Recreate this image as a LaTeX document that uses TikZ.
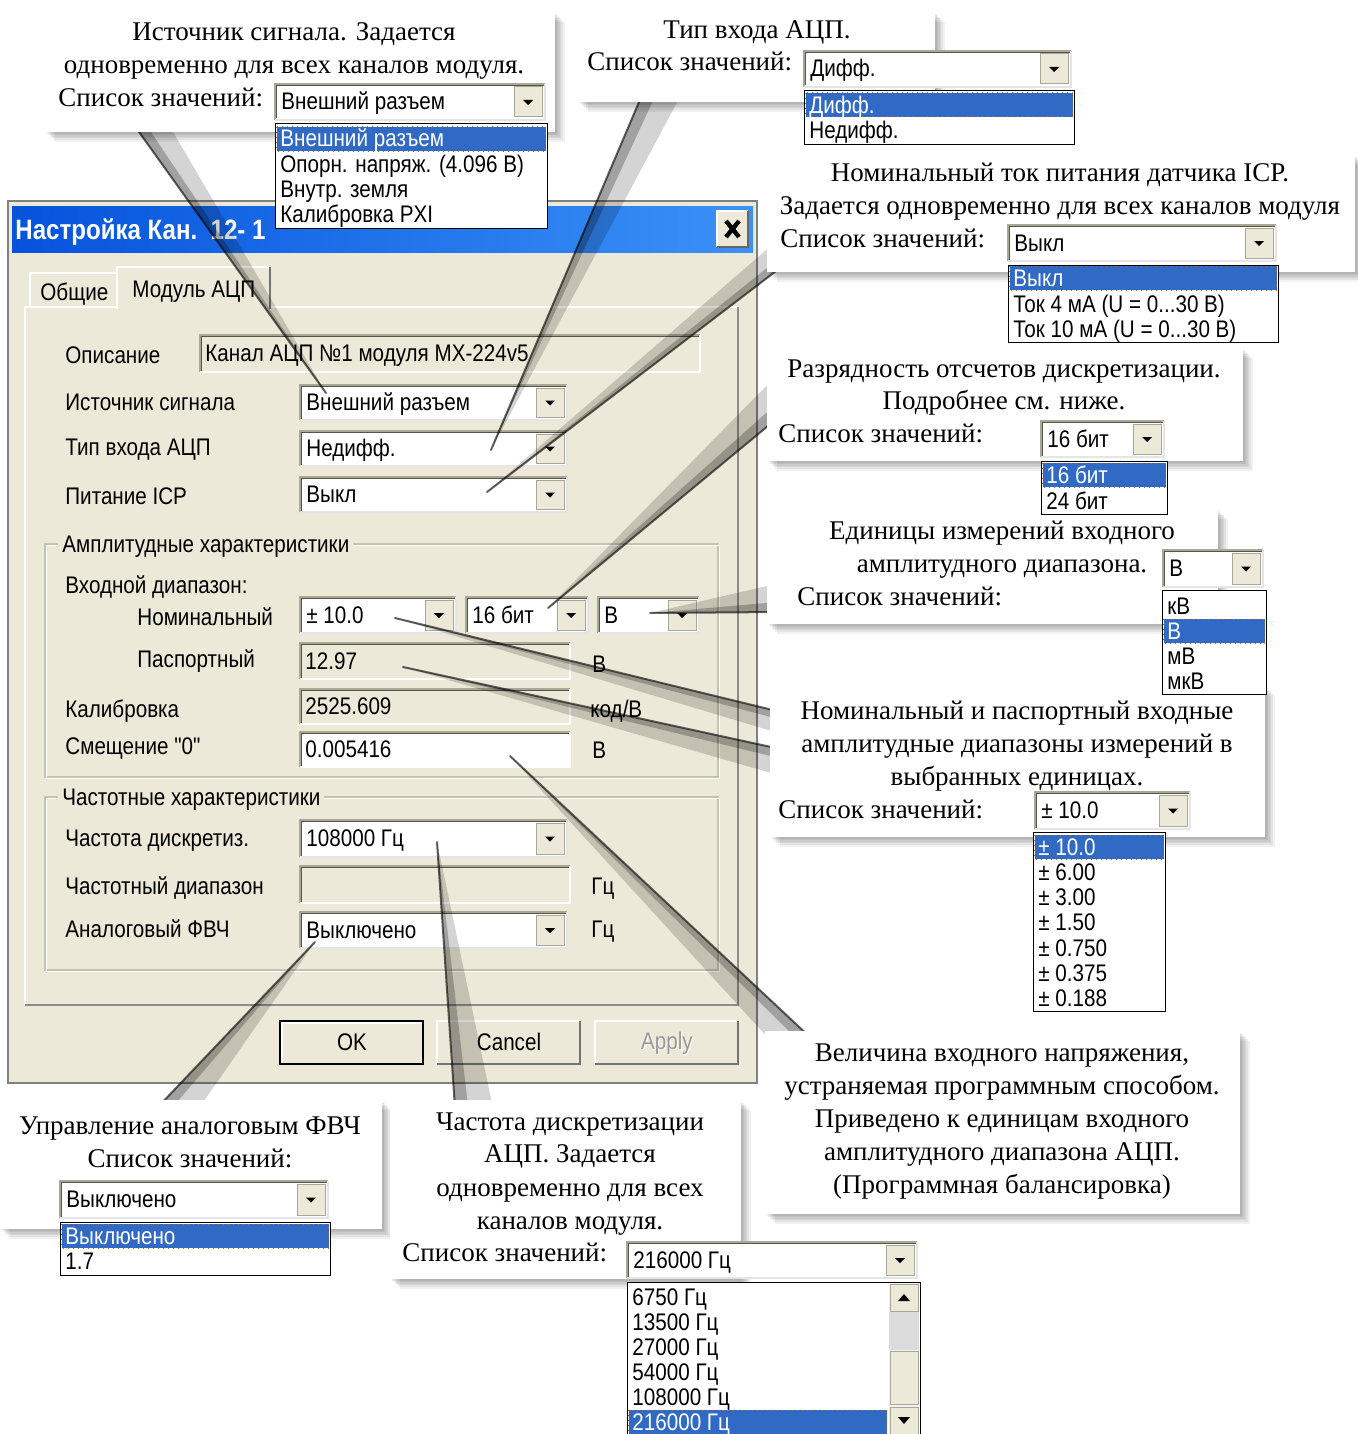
\documentclass[tikz,border=0pt]{standalone}
\usepackage{fontspec}
\setmainfont{Liberation Serif}
\newfontfamily\dlgfont[FakeStretch=0.86]{Liberation Sans}
\usetikzlibrary{calc}
\definecolor{beige}{HTML}{ECE9D8}
\definecolor{selblue}{HTML}{316AC5}
\definecolor{titleA}{HTML}{0553DC}
\definecolor{titleB}{HTML}{3B91F7}
\definecolor{edgeD}{HTML}{A9A796}
\definecolor{edgeK}{HTML}{55554C}
\definecolor{etch}{HTML}{C5C2B0}
\tikzset{
  dlg/.style={font=\dlgfont\fontsize{12}{14}\selectfont, inner sep=0pt, text=black},
  ctext/.style={font=\fontsize{13.5}{16.5}\selectfont, inner sep=0pt},
  shadowstep/.style={fill=black, fill opacity=0.055},
  ptrA/.style={fill=black, fill opacity=0.17},
  ptrB/.style={fill=black, fill opacity=0.24},
  ptrC/.style={draw=black, draw opacity=0.6, line width=1pt, line cap=round},
  lbox/.style={draw=black, line width=0.5pt, fill=white},
  grp/.style={draw=etch, line width=0.7pt},
}
% callout box with soft shadow: x1 y1 x2 y2
\newcommand\cbox[4]{%
  \foreach \k in {1,...,6} {\fill[shadowstep] ({#1+\k*1.6},{#2+\k*1.6}) rectangle ({#3+\k*1.6},{#4+\k*1.6});}
  \fill[white] (#1,#2) rectangle (#3,#4);
}
% combo box: name x1 y1 x2 y2 text
\newcommand\combo[6]{%
  \path[fill=white] (#2,#3) rectangle (#4,#5);
  \draw[edgeD, line width=1pt] (#2,#5) -- (#2,#3) -- (#4,#3);
  \draw[white!90!black, line width=1pt] (#4,#3) -- (#4,#5) -- (#2,#5);
  \draw[edgeK, line width=0.5pt] ({#2+1.5},{#5-1.5}) -- ({#2+1.5},{#3+1.5}) -- ({#4-1.5},{#3+1.5});
  \path[fill=beige, draw=edgeD, line width=0.5pt] ({#4-31},{#3+3}) rectangle ({#4-3},{#5-3});
  \fill ({#4-22},{(#3+#5)/2-2}) -- ({#4-12},{(#3+#5)/2-2}) -- ({#4-17},{(#3+#5)/2+3}) -- cycle;
  \node[dlg, anchor=base west] (#1) at ({#2+6},{(#3+#5)/2+8}) {#6};
}
% field: name x1 y1 x2 y2 fill text
\newcommand\field[7]{%
  \path[fill=#6] (#2,#3) rectangle (#4,#5);
  \draw[edgeD, line width=1pt] (#2,#5) -- (#2,#3) -- (#4,#3);
  \draw[white, line width=1pt] (#4,#3) -- (#4,#5) -- (#2,#5);
  \draw[edgeK, line width=0.5pt] ({#2+1.5},{#5-1.5}) -- ({#2+1.5},{#3+1.5}) -- ({#4-1.5},{#3+1.5});
  \node[dlg, anchor=base west] (#1) at ({#2+5},{(#3+#5)/2+8}) {#7};
}
% list items: name x1 x2 yc text
\newcommand\selitem[5]{%
  \path[fill=selblue, draw=orange!80!black, dotted, line width=0.5pt] ({#2+1.5},{#4-12}) rectangle ({#3-1.5},{#4+12});
  \node[dlg, text=white, anchor=base west] (#1) at ({#2+5},{#4+8}) {#5};
}
\newcommand\litem[5]{%
  \node[dlg, anchor=base west] (#1) at ({#2+5},{#4+8}) {#5};
}
\newcommand\pointer[3]{%
  \fill[ptrA] (#1) -- (#3) -- (#2) -- cycle;
  \fill[ptrB] (#1) -- (#3) -- ($(#1)!0.35!(#2)$) -- cycle;
  \draw[ptrC] (#1) -- (#3);
}
\begin{document}
\begin{tikzpicture}[x=0.5pt, y=-0.5pt]
\useasboundingbox (0,0) rectangle (1358,1434);
\fill[white] (0,0) rectangle (1358,1434);

% ---------------- dialog ----------------
\path[fill=beige, draw=black!50, line width=1pt] (8,201) rectangle (757,1083);
\shade[left color=titleA, right color=titleB] (12,206) rectangle (753,252);
\node[font=\dlgfont\bfseries\fontsize{14}{16}\selectfont, text=white, anchor=base west, inner sep=0pt] (title) at (15,239) {Настройка Кан.\ \ 12- 1};
\path[fill=beige] (717,211) rectangle (748,247);
\draw[white, line width=1pt] (717,247) -- (717,211) -- (748,211);
\draw[black!60, line width=1pt] (748,211) -- (748,247) -- (717,247);
\draw[line width=2.2pt] (726,221) -- (739,237) (739,221) -- (726,237);

% tab panel
\draw[white, line width=1pt] (25,1005) -- (25,307) -- (738,307);
\draw[black!45, line width=1pt] (738,307) -- (738,1005) -- (25,1005);
\path[fill=beige] (30,273) rectangle (117,306);
\draw[white, line width=1pt] (30,306) -- (30,273) -- (117,273);
\draw[black!45, line width=1pt] (117,273) -- (117,306);
\node[dlg, anchor=base west] (tab1) at (40,300) {Общие};
\path[fill=beige] (117,267) rectangle (270,309);
\draw[white, line width=1pt] (117,309) -- (117,267) -- (270,267);
\draw[black!55, line width=1pt] (270,267) -- (270,309);
\node[dlg, anchor=base west] (tab2) at (132,297) {Модуль АЦП};

% rows
\node[dlg, anchor=base west] (lDesc) at (65,363) {Описание};
\field{fdesc}{200}{335}{700}{372}{beige}{Канал АЦП №1 модуля MX-224v5}
\node[dlg, anchor=base west] (lSrc) at (65,410) {Источник сигнала};
\combo{csrc}{300}{385}{567}{420}{Внешний разъем}
\node[dlg, anchor=base west] (lType) at (65,455) {Тип входа АЦП};
\combo{ctype}{300}{431}{567}{466}{Недифф.}
\node[dlg, anchor=base west] (lIcp) at (65,504) {Питание ICP};
\combo{cicp}{300}{477}{567}{512}{Выкл}

% amplitude group
\draw[grp] (45,544) rectangle (718,777);
\draw[white, line width=0.7pt] (46.5,545.5) rectangle (719.5,778.5);
\node[dlg, anchor=base west, fill=beige, inner sep=2pt] (gAmp) at (58,552) {Амплитудные характеристики};
\node[dlg, anchor=base west] (lIn) at (65,593) {Входной диапазон:};
\node[dlg, anchor=base west] (lNom) at (137,625) {Номинальный};
\combo{cnom}{300}{597}{456}{633}{± 10.0}
\combo{cbit}{466}{597}{588}{633}{16 бит}
\combo{cunit}{598}{597}{699}{633}{В}
\node[dlg, anchor=base west] (lPass) at (137,667) {Паспортный};
\field{fpass}{300}{643}{570}{679}{beige}{12.97}
\node[dlg, anchor=base west] (uPass) at (592,672) {В};
\node[dlg, anchor=base west] (lCal) at (65,717) {Калибровка};
\field{fcal}{300}{689}{570}{724}{beige}{2525.609}
\node[dlg, anchor=base west] (uCal) at (590,717) {код/В};
\node[dlg, anchor=base west] (lZero) at (65,754) {Смещение "0"};
\field{fzero}{300}{732}{570}{767}{white}{0.005416}
\node[dlg, anchor=base west] (uZero) at (592,758) {В};

% frequency group
\draw[grp] (45,797) rectangle (718,970);
\draw[white, line width=0.7pt] (46.5,798.5) rectangle (719.5,971.5);
\node[dlg, anchor=base west, fill=beige, inner sep=2pt] (gFrq) at (58,805) {Частотные характеристики};
\node[dlg, anchor=base west] (lFs) at (65,846) {Частота дискретиз.};
\combo{cfreq}{300}{820}{567}{857}{108000 Гц}
\node[dlg, anchor=base west] (lFr) at (65,894) {Частотный диапазон};
\field{frange}{300}{866}{570}{903}{beige}{}
\node[dlg, anchor=base west] (uFr) at (591,894) {Гц};
\node[dlg, anchor=base west] (lHpf) at (65,937) {Аналоговый ФВЧ};
\combo{chpf}{300}{912}{567}{948}{Выключено}
\node[dlg, anchor=base west] (uHpf) at (591,937) {Гц};

% buttons
\path[fill=beige, draw=black, line width=1pt] (280,1021) rectangle (423,1064);
\draw[white, line width=0.7pt] (282,1062) -- (282,1023) -- (421,1023);
\node[dlg] (bOk) at (352,1042) {OK};
\path[fill=beige] (437,1021) rectangle (580,1064);
\draw[white, line width=1pt] (437,1064) -- (437,1021) -- (580,1021);
\draw[black!55, line width=1pt] (580,1021) -- (580,1064) -- (437,1064);
\node[dlg] (bCancel) at (509,1042) {Cancel};
\path[fill=beige] (595,1021) rectangle (738,1064);
\draw[white, line width=1pt] (595,1064) -- (595,1021) -- (738,1021);
\draw[black!55, line width=1pt] (738,1021) -- (738,1064) -- (595,1064);
\node[dlg, text=white] (bApplyS) at (668,1044) {Apply};
\node[dlg, text=black!40] (bApply) at (667,1043) {Apply};

% ---------------- pointers ----------------
\coordinate (p1a) at (134,125); \coordinate (p1b) at (169,125); \coordinate (p1t) at (326,393);
\coordinate (p2a) at (642,95);  \coordinate (p2b) at (681,95);  \coordinate (p2t) at (491,450);
\coordinate (p3a) at (780,268); \coordinate (p3b) at (780,238); \coordinate (p3t) at (487,492);
\coordinate (p4a) at (780,416); \coordinate (p4b) at (780,372); \coordinate (p4t) at (548,608);
\coordinate (p5a) at (780,612); \coordinate (p5b) at (780,583); \coordinate (p5t) at (650,613);
\coordinate (p6a) at (785,713); \coordinate (p6b) at (785,735); \coordinate (p6t) at (395,618);
\coordinate (p7a) at (785,750); \coordinate (p7b) at (785,777); \coordinate (p7t) at (403,667);
\coordinate (p8a) at (813,1040); \coordinate (p8b) at (770,1040); \coordinate (p8t) at (510,756);
\coordinate (p9a) at (157,1108); \coordinate (p9b) at (199,1108); \coordinate (p9t) at (315,942);
\coordinate (p10a) at (455,1108); \coordinate (p10b) at (493,1108); \coordinate (p10t) at (437,842);
\pointer{p1a}{p1b}{p1t}
\pointer{p2a}{p2b}{p2t}
\pointer{p3a}{p3b}{p3t}
\pointer{p4a}{p4b}{p4t}
\pointer{p5a}{p5b}{p5t}
\pointer{p6a}{p6b}{p6t}
\pointer{p7a}{p7b}{p7t}
\pointer{p8a}{p8b}{p8t}
\pointer{p9a}{p9b}{p9t}
\pointer{p10a}{p10b}{p10t}

% ---------------- callout boxes ----------------
\cbox{45}{12}{555}{132}
\cbox{578}{12}{935}{102}
\cbox{767}{155}{1355}{272}
\cbox{767}{348}{1243}{461}
\cbox{767}{509}{1218}{624}
\cbox{770}{685}{1265}{837}
\cbox{765}{1031}{1240}{1214}
\cbox{0}{1100}{382}{1229}
\cbox{390}{1100}{741}{1279}

% ---------------- callout contents ----------------
% C1
\node[ctext, anchor=base] (c1a) at (294,41) {Источник сигнала. Задается};
\node[ctext, anchor=base] (c1b) at (294,74) {одновременно для всех каналов модуля.};
\node[ctext, anchor=base west] (c1c) at (58,107) {Список значений:};
\combo{c1cmb}{275}{84}{545}{120}{Внешний разъем}
% C2
\node[ctext, anchor=base] (c2a) at (757,39) {Тип входа АЦП.};
\node[ctext, anchor=base west] (c2b) at (587,71) {Список значений:};
\combo{c2cmb}{804}{51}{1071}{87}{Дифф.}
% C3
\node[ctext, anchor=base] (c3a) at (1060,181) {Номинальный ток питания датчика ICP.};
\node[ctext, anchor=base] (c3b) at (1060,214) {Задается одновременно для всех каналов модуля};
\node[ctext, anchor=base west] (c3c) at (780,247) {Список значений:};
\combo{c3cmb}{1008}{225}{1276}{261}{Выкл}
% C4
\node[ctext, anchor=base] (c4a) at (1004,377) {Разрядность отсчетов дискретизации.};
\node[ctext, anchor=base] (c4b) at (1004,409) {Подробнее см. ниже.};
\node[ctext, anchor=base west] (c4c) at (778,442) {Список значений:};
\combo{c4cmb}{1041}{421}{1164}{457}{16 бит}
% C5
\node[ctext, anchor=base] (c5a) at (1002,539) {Единицы измерений входного};
\node[ctext, anchor=base] (c5b) at (1002,572) {амплитудного диапазона.};
\node[ctext, anchor=base west] (c5c) at (797,605) {Список значений:};
\combo{c5cmb}{1163}{550}{1263}{587}{В}
% C6
\node[ctext, anchor=base] (c6a) at (1017,719) {Номинальный и паспортный входные};
\node[ctext, anchor=base] (c6b) at (1017,752) {амплитудные диапазоны измерений в};
\node[ctext, anchor=base] (c6c) at (1017,785) {выбранных единицах.};
\node[ctext, anchor=base west] (c6d) at (778,818) {Список значений:};
\combo{c6cmb}{1035}{792}{1190}{829}{± 10.0}
% C7
\node[ctext, anchor=base] (c7a) at (1002,1061) {Величина входного напряжения,};
\node[ctext, anchor=base] (c7b) at (1002,1094) {устраняемая программным способом.};
\node[ctext, anchor=base] (c7c) at (1002,1127) {Приведено к единицам входного};
\node[ctext, anchor=base] (c7d) at (1002,1160) {амплитудного диапазона АЦП.};
\node[ctext, anchor=base] (c7e) at (1002,1193) {(Программная балансировка)};
% C8
\node[ctext, anchor=base] (c8a) at (190,1134) {Управление аналоговым ФВЧ};
\node[ctext, anchor=base] (c8b) at (190,1167) {Список значений:};
\combo{c8cmb}{60}{1181}{328}{1218}{Выключено}
% C9
\node[ctext, anchor=base] (c9a) at (570,1130) {Частота дискретизации};
\node[ctext, anchor=base] (c9b) at (570,1162) {АЦП. Задается};
\node[ctext, anchor=base] (c9c) at (570,1196) {одновременно для всех};
\node[ctext, anchor=base] (c9d) at (570,1229) {каналов модуля.};
\node[ctext, anchor=base west] (c9e) at (402,1261) {Список значений:};
\combo{c9cmb}{627}{1242}{917}{1278}{216000 Гц}

% ---------------- open lists ----------------
\path[lbox] (275,124) rectangle (547,228);
\selitem{c1i1}{275}{547}{139}{Внешний разъем}
\litem{c1i2}{275}{547}{164}{Опорн. напряж. (4.096 В)}
\litem{c1i3}{275}{547}{189}{Внутр. земля}
\litem{c1i4}{275}{547}{214}{Калибровка PXI}

\path[lbox] (804,91) rectangle (1074,144);
\selitem{c2i1}{804}{1074}{105}{Дифф.}
\litem{c2i2}{804}{1074}{131}{Недифф.}

\path[lbox] (1008,265) rectangle (1278,342);
\selitem{c3i1}{1008}{1278}{278}{Выкл}
\litem{c3i2}{1008}{1278}{304}{Ток 4 мА (U = 0...30 В)}
\litem{c3i3}{1008}{1278}{329}{Ток 10 мА (U = 0...30 В)}

\path[lbox] (1041,461) rectangle (1167,514);
\selitem{c4i1}{1041}{1167}{475}{16 бит}
\litem{c4i2}{1041}{1167}{501}{24 бит}

\path[lbox] (1162,590) rectangle (1266,694);
\litem{c5i1}{1162}{1266}{606}{кВ}
\selitem{c5i2}{1162}{1266}{631}{В}
\litem{c5i3}{1162}{1266}{656}{мВ}
\litem{c5i4}{1162}{1266}{681}{мкВ}

\path[lbox] (1033,832) rectangle (1165,1011);
\selitem{c6i1}{1033}{1165}{847}{± 10.0}
\litem{c6i2}{1033}{1165}{872}{± 6.00}
\litem{c6i3}{1033}{1165}{897}{± 3.00}
\litem{c6i4}{1033}{1165}{922}{± 1.50}
\litem{c6i5}{1033}{1165}{948}{± 0.750}
\litem{c6i6}{1033}{1165}{973}{± 0.375}
\litem{c6i7}{1033}{1165}{998}{± 0.188}

\path[lbox] (60,1222) rectangle (330,1275);
\selitem{c8i1}{60}{330}{1236}{Выключено}
\litem{c8i2}{60}{330}{1261}{1.7}

\path[lbox] (627,1282) rectangle (920,1438);
\litem{c9i1}{627}{888}{1297}{6750 Гц}
\litem{c9i2}{627}{888}{1322}{13500 Гц}
\litem{c9i3}{627}{888}{1347}{27000 Гц}
\litem{c9i4}{627}{888}{1372}{54000 Гц}
\litem{c9i5}{627}{888}{1397}{108000 Гц}
\selitem{c9i6}{627}{888}{1422}{216000 Гц}
% scrollbar
\path[fill=black!6] (889,1283) rectangle (919,1436);
\path[fill=black!14] (889,1312) rectangle (919,1350);
\path[fill=beige, draw=edgeD, line width=0.5pt] (890,1284) rectangle (918,1311);
\fill (898,1301) -- (910,1301) -- (904,1294) -- cycle;
\path[fill=beige, draw=edgeD, line width=0.5pt] (890,1351) rectangle (918,1404);
\path[fill=beige, draw=edgeD, line width=0.5pt] (890,1407) rectangle (918,1434);
\fill (898,1417) -- (910,1417) -- (904,1424) -- cycle;
\end{tikzpicture}
\end{document}
